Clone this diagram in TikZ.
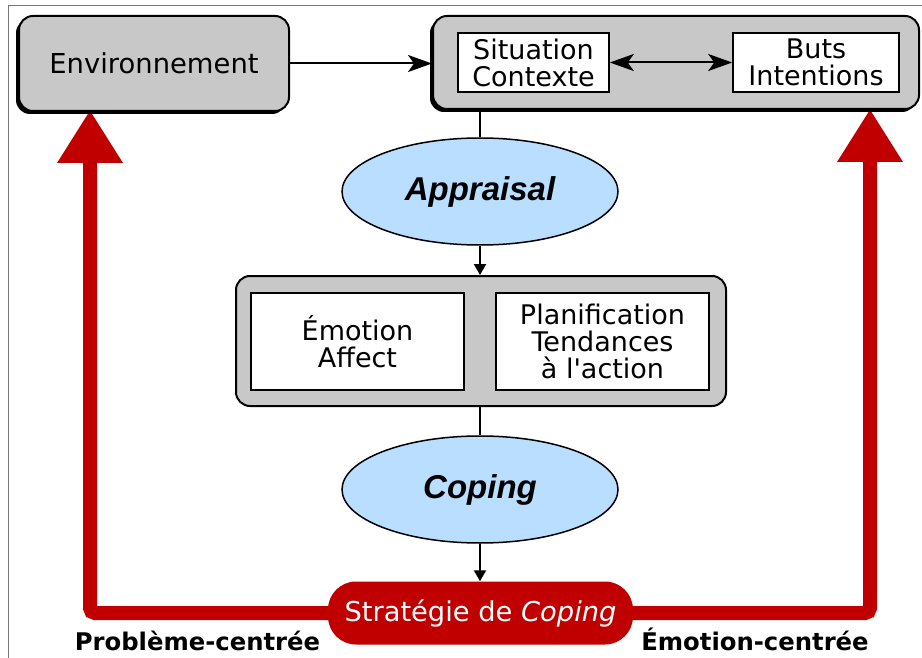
\documentclass[tikz,border=0pt]{standalone}
\usepackage{fontspec}
\setmainfont{DejaVu Sans}
\newfontfamily\ovalfont{Liberation Sans}
\usetikzlibrary{arrows.meta,shapes.geometric,shadows}

\definecolor{boxgray}{RGB}{200,200,200}
\definecolor{ovalblue}{RGB}{185,222,255}
\definecolor{copred}{RGB}{192,0,0}
\definecolor{framegray}{RGB}{120,120,120}

\pgfdeclarelayer{background}
\pgfsetlayers{background,main}

\begin{document}
\begin{tikzpicture}[x=1pt,y=-1pt,
  panel/.style={rectangle, draw=black, line width=2pt, fill=boxgray,
    rounded corners=14pt, inner sep=0pt},
  shadowpanel/.style={panel,
    drop shadow={shadow xshift=-3pt, shadow yshift=-3pt, fill=black, opacity=1}},
  inbox/.style={rectangle, draw=black, line width=1.6pt, fill=white,
    inner sep=0pt, align=center, font=\fontsize{27}{27}\selectfont},
  oval/.style={ellipse, draw=black, line width=1.5pt, fill=ovalblue,
    inner sep=0pt, minimum width=276pt, minimum height=107pt,
    font=\ovalfont\bfseries\itshape\fontsize{33}{33}\selectfont},
  pill/.style={rectangle, fill=copred, rounded corners=28pt, inner sep=0pt,
    minimum width=305pt, minimum height=63pt, text=white,
    font=\fontsize{27.3}{27.3}\selectfont},
  link/.style={draw=black, line width=2pt},
  bigtip/.style={-{Stealth[length=24pt,width=17pt,inset=6pt]}},
  smalltip/.style={-{Triangle[length=11pt,width=12pt]}},
  redline/.style={draw=copred, line width=14pt, rounded corners=5pt,
    -{Triangle[length=53pt,width=62pt]}},
  sidelabel/.style={anchor=base, font=\bfseries\fontsize{24.3}{24.3}\selectfont}
]
\useasboundingbox (0,0) rectangle (922,658);

% outer frame
\draw[framegray, line width=1pt] (8,658) -- (8,6) -- (922,6);

% top row
\node[shadowpanel, minimum width=270pt, minimum height=95pt,
      font=\fontsize{27.4}{27.4}\selectfont] (env) at (154,63.5) {Environnement};
\node[shadowpanel, minimum width=486pt, minimum height=93pt] (ctx) at (676,62.5) {};
\node[inbox, minimum width=151pt, minimum height=59pt] (sit) at (533.5,62.5)
  {Situation\\Contexte};
\node[inbox, minimum width=166pt, minimum height=59pt] (buts) at (816,62.5)
  {Buts\\Intentions};

% appraisal
\node[oval] (appr) at (480,191.5) {Appraisal};

% middle block
\node[panel, minimum width=490pt, minimum height=130pt] (mid) at (481,341) {};
\node[inbox, minimum width=213pt, minimum height=97pt] (emo) at (357.5,341.5)
  {Émotion\\Affect};
\node[inbox, minimum width=213pt, minimum height=97pt] (plan) at (602.5,341.5)
  {Planification\\Tendances\\à l\textquotesingle action};

% coping
\node[oval] (cop) at (480,489.5) {Coping};

% strategy
\node[pill] (strat) at (480.5,613) {Stratégie de \textit{Coping}};

% side labels
\node[sidelabel] (lprob) at (197.5,650) {Problème-centrée};
\node[sidelabel] (lemo) at (755,650) {Émotion-centrée};

% black connectors
\draw[link, bigtip] (env.east) -- (env.east -| ctx.west);
\draw[link, {Stealth[length=24pt,width=17pt,inset=6pt]}-{Stealth[length=24pt,width=17pt,inset=6pt]}]
  (sit.east) -- (buts.west);
\draw[link] (appr.north |- ctx.south) -- (appr.north);
\draw[link, smalltip] (appr.south) -- (appr.south |- mid.north);
\draw[link] (cop.north |- mid.south) -- (cop.north);
\draw[link, smalltip] (cop.south) -- (cop.south |- strat.north);

% red feedback paths
\coordinate (envport) at ([xshift=-64pt,yshift=2pt]env.south);
\coordinate (ctxport) at ([xshift=194pt,yshift=1pt]ctx.south);
\begin{pgfonlayer}{background}
\draw[redline] (strat.west) -| (envport);
\draw[redline] (strat.east) -| (ctxport);
\end{pgfonlayer}
\end{tikzpicture}
\end{document}
